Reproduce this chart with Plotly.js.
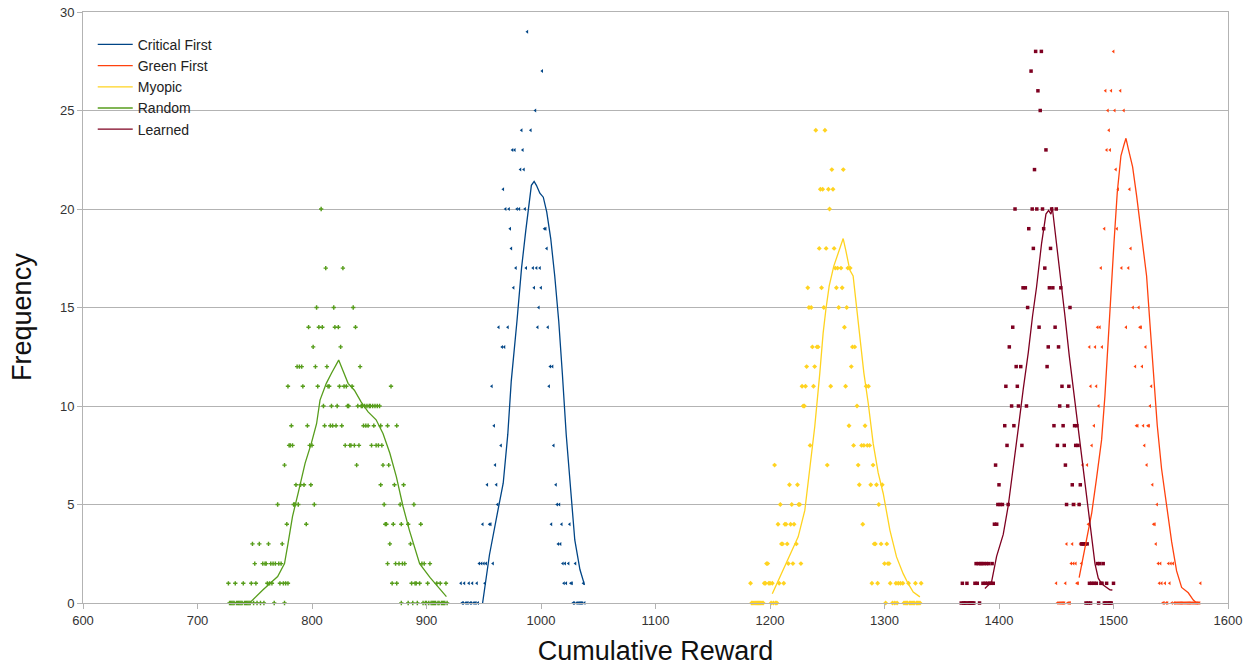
<!DOCTYPE html>
<html>
<head>
<meta charset="utf-8">
<script src="https://cdn.plot.ly/plotly-3.0.1.min.js"></script>
<style>html,body{margin:0;padding:0;background:#fff;}#chart{width:1252px;height:666px;}</style>
</head>
<body>
<div id="chart"></div>
<script>
// ---------- Critical First ----------
const critX = [988, 1001, 995, 983, 991, 975, 977, 984, 982, 985, 967,
  969, 972, 979, 981, 986, 973, 1003, 1004, 974, 1005,
  978, 987, 993, 996, 999, 976, 994, 1000, 998,
  963, 971, 997, 1006, 966, 968, 1008, 1010, 957, 1007, 959,
  965, 1011, 960, 953, 961, 1013, 962, 1014, 1016,
  949, 955, 956, 1009, 1018, 1025, 1015, 1017,
  946, 948, 950, 952, 958, 1019, 1021, 1024, 1030,
  930, 933, 937, 940, 944, 951, 1020, 1022, 1026, 1027, 1037,
  931, 932, 934, 935, 936, 938, 939, 941, 942, 943, 945, 1028, 1029, 1031, 1032, 1033, 1034, 1035, 1036, 1038];
const critY = [29, 27, 25, 24, 24, 23, 23, 23, 22, 22, 21,
  20, 20, 20, 20, 20, 19, 19, 19, 18, 18,
  17, 17, 17, 17, 17, 16, 16, 16, 15,
  14, 14, 14, 14, 13, 13, 12, 12, 11, 11, 9,
  8, 8, 7, 6, 6, 6, 5, 5, 5,
  4, 4, 4, 4, 4, 4, 3, 3,
  2, 2, 2, 2, 2, 2, 2, 2, 2,
  1, 1, 1, 1, 1, 1, 1, 1, 1, 1, 1,
  0, 0, 0, 0, 0, 0, 0, 0, 0, 0, 0, 0, 0, 0, 0, 0, 0, 0, 0, 0];
const critLineX = [949, 955, 962.5, 967, 971, 974, 979, 983, 986.7, 990, 991.6, 994, 996, 999, 1002, 1005, 1008.5, 1012, 1015.5, 1018.7, 1022, 1026, 1029.5, 1034, 1038];
const critLineY = [0, 2.45, 4.74, 6.08, 8.57, 11.25, 14.3, 17.0, 18.9, 20.4, 21.2, 21.4, 21.2, 20.8, 20.6, 19.85, 18.5, 16.6, 14.3, 11.6, 8.57, 5.7, 3.2, 1.7, 0.92];

// ---------- Green First ----------
const greenFX = [1500, 1493, 1498, 1506, 1495, 1501, 1509, 1496, 1494, 1497, 1502,
  1504, 1514, 1492, 1503, 1515, 1489, 1507, 1513, 1517, 1522,
  1486, 1488, 1511, 1523, 1524, 1479, 1484, 1490, 1528, 1519, 1525,
  1480, 1485, 1533, 1487, 1532, 1483, 1520, 1521, 1526, 1530, 1531,
  1481, 1527, 1473, 1477, 1529, 1534, 1466, 1470, 1538, 1478, 1535, 1536,
  1459, 1464, 1471, 1474, 1476, 1537,
  1463, 1465, 1467, 1472, 1539, 1541, 1548, 1550, 1552,
  1450, 1458, 1468, 1469, 1540, 1542, 1545, 1549, 1576,
  1451, 1452, 1453, 1454, 1455, 1456, 1457, 1460, 1461, 1462, 1543, 1544, 1546, 1547, 1551, 1553, 1554, 1555, 1556, 1557,
  1558, 1559, 1560, 1561, 1562, 1563, 1564, 1565, 1566, 1567, 1568, 1569, 1570, 1571, 1572, 1573, 1574, 1575];
const greenFY = [28, 26, 26, 26, 25, 25, 25, 24, 23, 23, 22,
  21, 21, 19, 19, 18, 17, 17, 17, 15, 15,
  14, 14, 14, 14, 14, 13, 13, 13, 13, 12, 12,
  11, 11, 11, 10, 10, 9, 9, 9, 9, 9, 9,
  8, 8, 7, 7, 7, 6, 5, 5, 5, 4, 4, 4,
  3, 3, 3, 3, 3, 3,
  2, 2, 2, 2, 2, 2, 2, 2, 2,
  1, 1, 1, 1, 1, 1, 1, 1, 1,
  0, 0, 0, 0, 0, 0, 0, 0, 0, 0, 0, 0, 0, 0, 0, 0, 0, 0, 0, 0,
  0, 0, 0, 0, 0, 0, 0, 0, 0, 0, 0, 0, 0, 0, 0, 0, 0, 0];
const greenFLineX = [1470, 1475, 1481, 1485, 1489.6, 1492.5, 1495.4, 1497.7, 1500.4, 1503.3, 1506.5, 1509.1, 1510.9, 1512.9, 1516.7, 1520.2, 1523.1, 1526, 1528.9, 1531.8, 1534.7, 1538.2, 1542, 1546.4, 1550.8, 1555.1, 1559.5, 1565.3, 1569.7, 1572.6];
const greenFLineY = [1.29, 2.74, 4.58, 6.25, 8.28, 10.5, 13.46, 16.04, 18.26, 20.85, 22.7, 23.25, 23.59, 23.07, 22.14, 20.67, 19.37, 18.08, 16.6, 14.2, 11.98, 9.02, 6.8, 4.95, 3.1, 1.63, 0.79, 0.52, 0.15, 0];

// ---------- Myopic ----------
const myopX = [1240, 1248, 1254, 1264, 1244, 1246, 1251, 1255, 1252, 1243, 1249, 1256,
  1257, 1259, 1262, 1268, 1270, 1233, 1245, 1258, 1263, 1234, 1236, 1247, 1260, 1267, 1265,
  1237, 1241, 1242, 1272, 1274, 1232, 1239, 1271,
  1228, 1231, 1238, 1253, 1266, 1284, 1286, 1229, 1230, 1276, 1269, 1283,
  1235, 1273, 1280, 1282, 1285, 1287, 1204, 1250, 1277, 1290,
  1217, 1224, 1278, 1288, 1293, 1298, 1209, 1219, 1225, 1226, 1295,
  1207, 1213, 1214, 1218, 1221, 1281, 1210, 1211, 1215, 1223, 1291, 1292, 1297, 1302,
  1197, 1198, 1216, 1220, 1227, 1300, 1303, 1304,
  1183, 1195, 1196, 1199, 1200, 1202, 1208, 1212, 1289, 1294, 1305, 1310, 1312, 1314, 1316, 1321, 1327, 1332,
  1184, 1185, 1186, 1187, 1188, 1189, 1190, 1191, 1192, 1193, 1194, 1201, 1203, 1205, 1206, 1301, 1307, 1309, 1311,
  1317, 1318, 1319, 1320, 1322, 1323, 1324, 1325, 1326, 1328, 1329, 1330, 1331];
const myopY = [24, 24, 22, 22, 21, 21, 21, 21, 20, 18, 18, 18,
  17, 17, 17, 17, 17, 16, 16, 16, 16, 15, 15, 15, 15, 15, 14,
  13, 13, 13, 13, 13, 12, 12, 12,
  11, 11, 11, 11, 11, 11, 11, 10, 10, 10, 9, 9,
  8, 8, 8, 8, 8, 8, 7, 7, 7, 7,
  6, 6, 6, 6, 6, 6, 5, 5, 5, 5, 5,
  4, 4, 4, 4, 4, 4, 3, 3, 3, 3, 3, 3, 3, 3,
  2, 2, 2, 2, 2, 2, 2, 2,
  1, 1, 1, 1, 1, 1, 1, 1, 1, 1, 1, 1, 1, 1, 1, 1, 1, 1,
  0, 0, 0, 0, 0, 0, 0, 0, 0, 0, 0, 0, 0, 0, 0, 0, 0, 0, 0,
  0, 0, 0, 0, 0, 0, 0, 0, 0, 0, 0, 0, 0];
const myopLineX = [1202, 1208.6, 1217.3, 1224.6, 1230.4, 1234.8, 1239.1, 1243.5, 1246.4, 1248.8, 1251.7, 1255.7, 1259.5, 1263.9, 1266.2, 1268.3, 1269.7, 1272.6, 1275.6, 1278.5, 1282, 1285.8, 1290.1, 1294.5, 1298.9, 1304.7, 1310.5, 1316.3, 1320.7, 1325.1, 1330.9];
const myopLineY = [0.47, 1.32, 2.5, 3.36, 4.7, 6.75, 8.96, 11.67, 13.7, 14.9, 16.1, 17.1, 17.8, 18.5, 17.9, 17.35, 16.9, 16.6, 15.06, 13.5, 11.67, 10.14, 8.1, 6.6, 5.56, 3.7, 2.34, 1.49, 0.98, 0.56, 0.31];

// ---------- Random ----------
const randX = [808, 812, 827, 804, 819, 836, 797, 806, 809, 820, 823, 838, 801, 825,
  787, 789, 791, 803, 813, 842,
  779, 792, 805, 814, 815, 824, 828, 830, 835, 869,
  810, 817, 822, 831, 832, 840, 843, 844, 846, 848, 850, 851, 853, 855, 857, 859,
  782, 796, 811, 816, 818, 821, 826, 845, 847, 849, 854, 860, 866, 874,
  780, 781, 783, 798, 800, 829, 833, 834, 837, 841, 852, 856, 858, 861,
  776, 839, 862, 867,
  786, 790, 793, 799, 860, 872, 880,
  770, 784, 785, 788, 802, 863, 877, 889,
  778, 795, 864, 865, 871, 878, 884, 895,
  748, 754, 762, 774, 868, 886,
  750, 757, 759, 760, 764, 766, 768, 771, 773, 866, 873, 876, 879, 881, 896, 898, 903,
  727, 733, 740, 747, 751, 761, 763, 765, 772, 775, 777, 779, 870, 874, 887, 890, 891, 894, 901, 909, 912, 917,
  728, 729, 730, 731, 732, 734, 735, 736, 737, 738, 739, 741, 742, 743, 744, 745, 746, 749, 752, 755, 758, 767, 776,
  878, 884, 888, 892, 897, 899, 900, 902, 904, 905, 906, 907, 908, 910, 911, 913, 914, 915, 916, 918];
const randY = [20, 17, 17, 15, 15, 15, 14, 14, 14, 14, 14, 14, 13, 13,
  12, 12, 12, 12, 12, 12,
  11, 11, 11, 11, 11, 11, 11, 11, 11, 11,
  10, 10, 10, 10, 10, 10, 10, 10, 10, 10, 10, 10, 10, 10, 10, 10,
  9, 9, 9, 9, 9, 9, 9, 9, 9, 9, 9, 9, 9, 9,
  8, 8, 8, 8, 8, 8, 8, 8, 8, 8, 8, 8, 8, 8,
  7, 7, 7, 7,
  6, 6, 6, 6, 6, 6, 6,
  5, 5, 5, 5, 5, 5, 5, 5,
  4, 4, 4, 4, 4, 4, 4, 4,
  3, 3, 3, 3, 3, 3,
  2, 2, 2, 2, 2, 2, 2, 2, 2, 2, 2, 2, 2, 2, 2, 2, 2,
  1, 1, 1, 1, 1, 1, 1, 1, 1, 1, 1, 1, 1, 1, 1, 1, 1, 1, 1, 1, 1, 1,
  0, 0, 0, 0, 0, 0, 0, 0, 0, 0, 0, 0, 0, 0, 0, 0, 0, 0, 0, 0, 0, 0, 0,
  0, 0, 0, 0, 0, 0, 0, 0, 0, 0, 0, 0, 0, 0, 0, 0, 0, 0, 0, 0];
const randLineX = [745.5, 757, 770, 776, 779, 783, 788, 794, 799.4, 804, 807, 812.5, 817, 823.3, 827, 831.5, 837, 843, 849, 856, 862, 868, 873.7, 879.5, 885, 894, 903, 911.6, 917.4];
const randLineY = [0, 0.66, 1.34, 2.0, 3.0, 4.4, 5.6, 7.1, 8.1, 9.1, 10.3, 11.15, 11.66, 12.33, 11.8, 11.15, 10.8, 10.2, 9.7, 9.3, 8.6, 7.6, 6.4, 4.9, 3.7, 2.0, 1.3, 0.74, 0.32];

// ---------- Learned ----------
const learnX = [1432, 1437, 1428, 1434, 1436, 1441, 1431,
  1414, 1429, 1433, 1438, 1446, 1450, 1426, 1439, 1430, 1445, 1440,
  1421, 1423, 1444, 1447, 1454, 1425, 1462, 1412, 1435, 1449, 1409, 1443, 1452,
  1415, 1419, 1442, 1406, 1416, 1455, 1461, 1411, 1417, 1424, 1453, 1460,
  1405, 1413, 1448, 1456, 1466, 1468, 1407, 1420, 1451, 1457, 1467, 1469,
  1397, 1458, 1400, 1464, 1471, 1399, 1401, 1403, 1408, 1459, 1465, 1470,
  1396, 1398, 1472, 1473, 1474, 1475, 1477,
  1380, 1382, 1384, 1385, 1387, 1389, 1391, 1394, 1486, 1488, 1491,
  1368, 1372, 1379, 1381, 1386, 1388, 1390, 1392, 1393, 1395, 1479, 1481, 1483, 1485, 1489, 1490, 1494, 1500,
  1367, 1369, 1370, 1371, 1373, 1374, 1375, 1376, 1377, 1378, 1383, 1476, 1478, 1480, 1487, 1492, 1493, 1495, 1496, 1497, 1498];
const learnY = [28, 28, 27, 26, 25, 23, 22,
  20, 20, 20, 20, 20, 20, 19, 19, 18, 18, 17,
  16, 16, 16, 16, 16, 15, 15, 14, 14, 14, 13, 13, 13,
  12, 12, 12, 11, 11, 11, 11, 10, 10, 10, 10, 10,
  9, 9, 9, 9, 9, 9, 8, 8, 8, 8, 8, 8,
  7, 7, 6, 6, 6, 5, 5, 5, 5, 5, 5, 5,
  4, 4, 3, 3, 3, 3, 3,
  2, 2, 2, 2, 2, 2, 2, 2, 2, 2, 2,
  1, 1, 1, 1, 1, 1, 1, 1, 1, 1, 1, 1, 1, 1, 1, 1, 1, 1,
  0, 0, 0, 0, 0, 0, 0, 0, 0, 0, 0, 0, 0, 0, 0, 0, 0, 0, 0, 0, 0];
const learnLineX = [1387.7, 1393.5, 1397.9, 1403.7, 1408.1, 1412.4, 1416.8, 1421.2, 1425.6, 1429.3, 1432.8, 1437.2, 1441, 1443.3, 1445.4, 1446.5, 1448, 1449.7, 1453.2, 1457.6, 1461.4, 1464.9, 1469.2, 1473.6, 1477.1, 1480.9, 1483.8, 1486.7, 1489.6, 1494, 1496.9, 1499];
const learnLineY = [0.74, 1.07, 2.37, 3.48, 4.95, 6.8, 8.84, 10.87, 12.72, 14.57, 16.04, 18.26, 19.74, 19.93, 19.74, 20.1, 19.37, 18.26, 16.6, 14.57, 12.53, 10.87, 9.02, 6.99, 5.32, 3.48, 2.0, 1.26, 0.98, 0.79, 0.67, 0.66];

const seriesNames = ['Critical First', 'Green First', 'Myopic', 'Random', 'Learned'];
const seriesColors = ['#004586', '#ff420e', '#ffd320', '#579d1c', '#7e0021'];
const xTicks = [600, 700, 800, 900, 1000, 1100, 1200, 1300, 1400, 1500, 1600];
const yTicks = [0, 5, 10, 15, 20, 25, 30];
const xTitle = 'Cumulative Reward';
const yTitle = 'Frequency';

const pts = [[critX, critY], [greenFX, greenFY], [myopX, myopY], [randX, randY], [learnX, learnY]];
const lines = [[critLineX, critLineY], [greenFLineX, greenFLineY], [myopLineX, myopLineY], [randLineX, randLineY], [learnLineX, learnLineY]];
const symbols = ['triangle-left', 'triangle-left', 'diamond', 'cross', 'square'];
const sizes = [3.5, 3.5, 3.8, 3.6, 3.5];

const traces = [];
pts.forEach((p, i) => {
  traces.push({
    type: 'scatter', mode: 'markers', x: p[0], y: p[1], showlegend: false, cliponaxis: false,
    marker: {color: seriesColors[i], size: sizes[i], symbol: symbols[i], line: {width: 0}},
    hoverinfo: 'skip'
  });
});
lines.forEach((l, i) => {
  traces.push({
    type: 'scatter', mode: 'lines', x: l[0], y: l[1], name: seriesNames[i],
    line: {color: seriesColors[i], width: 1.3}, hoverinfo: 'skip'
  });
});

const layout = {
  width: 1252, height: 666,
  margin: {l: 83, r: 24, t: 12, b: 63},
  paper_bgcolor: '#ffffff', plot_bgcolor: '#ffffff',
  font: {family: 'Liberation Sans, Arial, sans-serif', size: 13, color: '#333333'},
  showlegend: true,
  legend: {x: 0.0085, y: 0.9716, xanchor: 'left', yanchor: 'top', bgcolor: 'rgba(255,255,255,0)',
    font: {size: 14, color: '#222222'}, tracegroupgap: 0, itemwidth: 35},
  xaxis: {
    range: [600, 1600], tickvals: xTicks, ticktext: xTicks.map(String),
    showgrid: false, zeroline: false, showline: true, mirror: true, linecolor: '#b3b3b3', linewidth: 1,
    ticks: 'outside', ticklen: 5, tickcolor: '#b3b3b3',
    tickfont: {size: 13, color: '#333333'},
    title: {text: xTitle, font: {size: 27, color: '#111111'}, standoff: 15}
  },
  yaxis: {
    range: [0, 30], tickvals: yTicks, ticktext: yTicks.map(String),
    showgrid: true, gridcolor: '#b3b3b3', gridwidth: 1, zeroline: false,
    showline: true, mirror: true, linecolor: '#b3b3b3', linewidth: 1,
    ticks: 'outside', ticklen: 5, tickcolor: '#b3b3b3',
    tickfont: {size: 13, color: '#333333'}
  },
  annotations: [{
    text: yTitle, textangle: -90, xref: 'paper', yref: 'paper',
    x: -0.0533, y: 0.484, xanchor: 'center', yanchor: 'middle', showarrow: false,
    font: {size: 27, color: '#111111'}
  }]
};

Plotly.newPlot('chart', traces, layout, {displayModeBar: false, staticPlot: true});
</script>
</body>
</html>
